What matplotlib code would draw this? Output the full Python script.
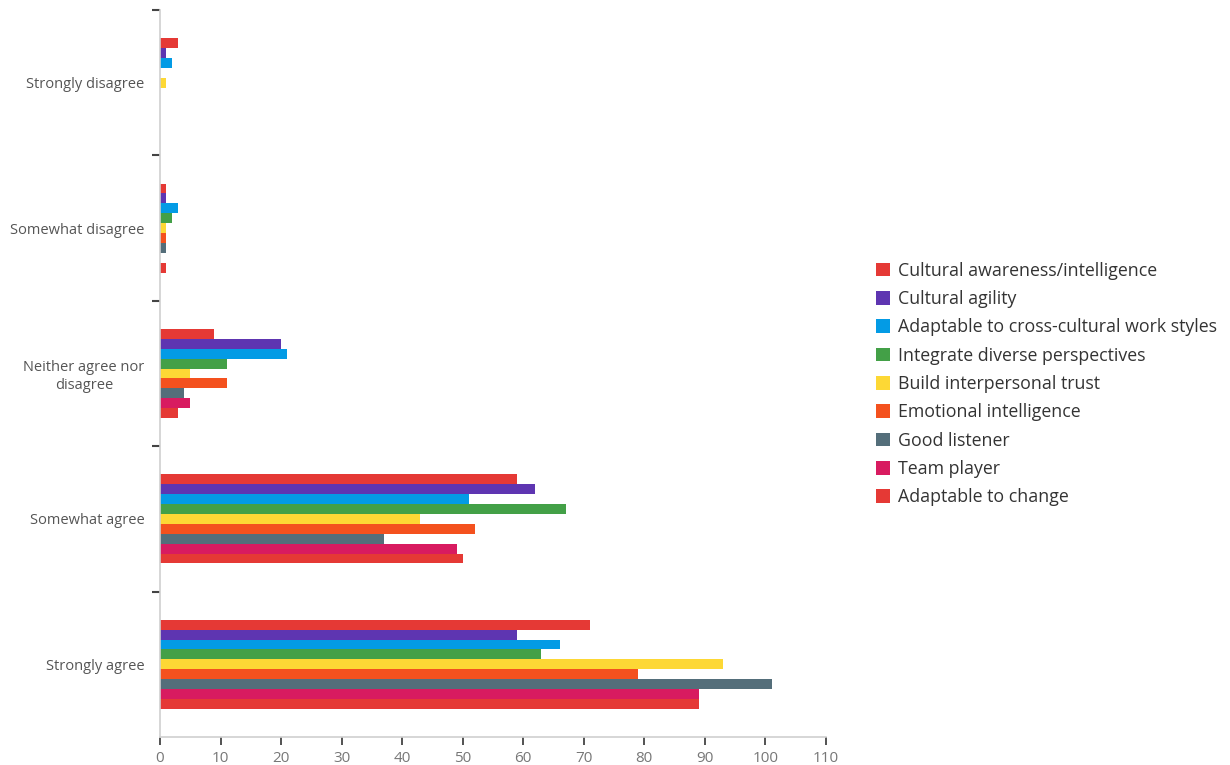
import numpy as np
import matplotlib.pyplot as plt

# responses per agreement level, one list per skill
levels = ["Strongly disagree", "Somewhat disagree", "Neither agree nor\ndisagree",
          "Somewhat agree", "Strongly agree"]
skills = ["Cultural awareness/intelligence", "Cultural agility",
          "Adaptable to cross-cultural work styles", "Integrate diverse perspectives",
          "Build interpersonal trust", "Emotional intelligence", "Good listener",
          "Team player", "Adaptable to change"]
cultural_awareness = [3, 1, 9, 59, 71]
cultural_agility = [1, 1, 20, 62, 59]
cross_cultural = [2, 3, 21, 51, 66]
diverse_perspectives = [0, 2, 11, 67, 63]
interpersonal_trust = [1, 1, 5, 43, 93]
emotional_intelligence = [0, 1, 11, 52, 79]
good_listener = [0, 1, 4, 37, 101]
team_player = [0, 0, 5, 49, 89]
adaptable_change = [0, 1, 3, 50, 89]
series = [cultural_awareness, cultural_agility, cross_cultural, diverse_perspectives,
          interpersonal_trust, emotional_intelligence, good_listener, team_player,
          adaptable_change]
colors = ["#E53935", "#5E35B1", "#039BE5", "#43A047", "#FDD835",
          "#F4511E", "#546E7A", "#D81B60", "#E53935"]

plt.rcParams['font.family'] = ['Open Sans', 'DejaVu Sans']

fig = plt.figure(figsize=(12.3, 7.65), dpi=100)
ax = fig.add_axes([160/1230, 1-737/765, (826-160)/1230, (737-10)/765])

y = np.arange(len(levels))
h = 0.068
for i, (vals, c) in enumerate(zip(series, colors)):
    ax.barh(y + (i - 4) * h, vals, height=h, color=c, label=skills[i])

ax.set_ylim(4.5, -0.5)
ax.set_xlim(0, 110)
ax.set_xticks(np.arange(0, 111, 10))
ax.set_yticks(y)
ax.set_yticklabels(levels, multialignment='center')
ax.set_yticks(np.arange(-0.5, 3.6, 1), minor=True)

for s in ['top', 'right']:
    ax.spines[s].set_visible(False)
for s in ['left', 'bottom']:
    ax.spines[s].set_color('#d0d0d0')
    ax.spines[s].set_linewidth(1.2)

ax.tick_params(axis='y', which='major', length=0, pad=11, labelsize=10.5, labelcolor='#555555')
ax.tick_params(axis='y', which='minor', length=6, width=1.5, color='#444444')
ax.tick_params(axis='x', length=6, width=1.3, color='#444444', labelsize=11,
               labelcolor='#777777', pad=4)

handles, labels = ax.get_legend_handles_labels()
fig.legend(handles, labels, loc='center left', bbox_to_anchor=(860/1230, 1-384/765),
           frameon=False, fontsize=12.8, labelcolor='#333333', handlelength=0.8,
           handleheight=0.8, handletextpad=0.45, labelspacing=0.58)

fig.savefig("out.png", dpi=100)
